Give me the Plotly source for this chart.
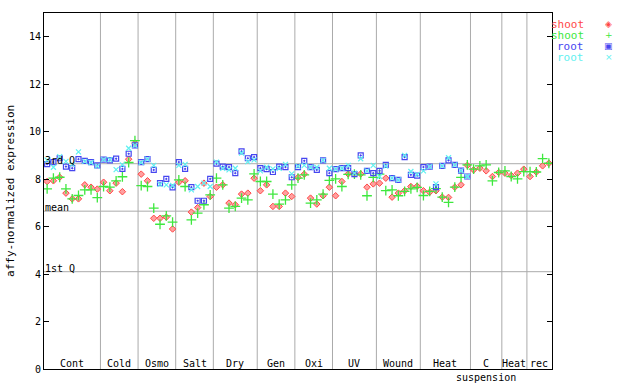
import plotly.graph_objects as go

# ---- data ----
groups = ["Cont", "Cold", "Osmo", "Salt", "Dry", "Gen", "Oxi", "UV", "Wound", "Heat", "C", "Heat", "rec"]
group_sizes = [9, 6, 6, 6, 7, 6, 6, 7, 7, 8, 5, 4, 4]

shoot_red = [7.90, 7.93, 8.08, 7.41, 7.17, 7.17, 7.76, 7.66, 7.58,
             7.87, 7.51, 7.83, 7.47, 8.84, 9.52,
             8.21, 7.93, 6.35, 6.35, 6.40, 5.90,
             7.87, 7.93, 6.61, 6.80, 7.83, 7.27,
             7.66, 7.76, 6.99, 6.92, 7.37, 7.41, 8.04,
             7.51, 7.76, 6.85, 6.85, 7.41, 7.27,
             8.07, 8.21, 7.20, 6.95, 7.30, 7.66,
             7.30, 7.90, 8.22, 8.20, 8.22, 7.66, 7.80,
             7.83, 8.04, 7.24, 7.41, 7.51, 7.69, 7.70,
             7.51, 7.45, 7.51, 7.24, 7.23, 7.66, 7.76, 8.58,
             8.39, 8.46, 8.35, 8.11, 8.28,
             8.25, 8.15, 8.25, 8.42,
             8.11, 8.30, 8.56, 8.67]

shoot_green = [7.59, 8.04, 8.08, 7.59, 7.17, 7.31, 7.55, 7.55, 7.22,
               7.69, 7.66, 7.93, 8.10, 8.70, 9.62,
               7.73, 7.69, 6.78, 6.10, 6.45, 6.19,
               7.97, 7.69, 6.28, 6.57, 6.92, 7.34,
               8.04, 7.76, 6.78, 6.85, 7.20, 7.13, 8.22,
               7.90, 7.90, 7.37, 6.95, 7.13, 7.76,
               8.04, 8.18, 6.99, 7.13, 7.37, 7.95,
               8.01, 7.69, 8.20, 8.21, 8.18, 7.30, 8.07,
               8.21, 7.52, 7.55, 7.30, 7.48, 7.59, 7.65,
               7.31, 7.48, 7.60, 7.24, 7.02, 7.66, 8.07, 8.60,
               8.42, 8.56, 8.60, 7.93, 8.28,
               8.35, 8.11, 8.01, 8.32,
               8.32, 8.30, 8.86, 8.67]

root_blue = [8.63, 8.72, 8.88, 8.53, 8.46, 8.84, 8.77, 8.72, 8.58,
             8.82, 8.79, 8.86, 8.43, 9.07, 9.42,
             8.72, 8.84, 8.39, 7.83, 8.01, 7.65,
             8.72, 8.43, 7.66, 7.09, 7.09, 8.01,
             8.65, 8.53, 8.51, 8.25, 9.17, 8.88, 8.93,
             8.46, 8.42, 8.30, 8.53, 8.51, 8.08,
             8.51, 8.77, 8.51, 8.39, 8.79, 8.25,
             8.42, 8.46, 8.46, 8.21, 9.00, 8.35, 8.25,
             8.35, 8.60, 8.04, 7.97, 8.93, 8.18, 8.15,
             8.51, 8.53, 7.66, 8.56, 8.79, 8.60, 8.36, 8.11]

root_cyan = [8.80, 8.50, 8.95, 8.75, 8.62, 9.15, 8.75, 8.70, 8.55,
             8.82, 8.82, 8.40, 8.60, 9.30, 9.42,
             8.70, 8.84, 8.58, 7.78, 7.76, 7.73,
             8.58, 8.62, 7.55, 7.69, 7.83, 7.69,
             8.72, 8.45, 8.39, 8.46, 9.10, 8.74, 8.81,
             8.35, 8.50, 8.43, 8.45, 8.62, 8.22,
             8.55, 8.58, 8.50, 8.50, 8.79, 8.46,
             8.42, 8.46, 8.58, 8.25, 8.86, 8.35, 8.58,
             8.11, 8.55, 8.04, 7.97, 9.00, 8.32, 8.20,
             8.35, 8.53, 7.80, 8.56, 8.90, 8.60, 8.36, 8.11]

quartile_values = [8.65, 6.65, 4.10]
quartile_labels = ["3rd Q", "mean", "1st Q"]
y_ticks = [0, 2, 4, 6, 8, 10, 12, 14]
legend_labels = ["shoot", "shoot", "root", "root"]

# ---- figure ----
FONT = "DejaVu Sans Mono"
RED, GREEN, BLUE, CYAN = "#ff4848", "#3ee83e", "#4646f0", "#5ff0f0"
n_total = sum(group_sizes)
x_shoot = list(range(len(shoot_red)))
x_root = list(range(len(root_blue)))

fig = go.Figure()
fig.add_trace(go.Scatter(x=x_shoot, y=shoot_red, mode="markers", name="shoot",
                         marker=dict(symbol="diamond", size=5, color="#ffa0a0",
                                     line=dict(color=RED, width=1))))
fig.add_trace(go.Scatter(x=x_shoot, y=shoot_green, mode="markers", name="shoot",
                         marker=dict(symbol="cross-thin-open", size=7, color=GREEN,
                                     line=dict(color=GREEN, width=1.3))))
fig.add_trace(go.Scatter(x=x_root, y=root_blue, mode="markers", name="root",
                         marker=dict(symbol="square-open-dot", size=5, color=BLUE,
                                     line=dict(color=BLUE, width=1.2))))
fig.add_trace(go.Scatter(x=x_root, y=root_cyan, mode="markers", name="root",
                         marker=dict(symbol="x-thin-open", size=5, color=CYAN,
                                     line=dict(color=CYAN, width=1.2))))

shapes = []
annotations = []
grid_color = "#ababab"

# group separators and labels
start = 0
for gi, (name, size) in enumerate(zip(groups, group_sizes)):
    end = start + size
    if gi < len(groups) - 1:
        shapes.append(dict(type="line", xref="x", yref="y", x0=end - 0.5, x1=end - 0.5,
                           y0=0, y1=15, line=dict(color=grid_color, width=1), layer="below"))
    center = (start + end - 1) / 2
    annotations.append(dict(x=center, y=0, xref="x", yref="y", text=name, showarrow=False,
                            yanchor="bottom", yshift=-2, font=dict(family=FONT, size=10, color="black")))
    if name == "C":
        annotations.append(dict(x=center, y=0, xref="x", yref="y", text="suspension", showarrow=False,
                                yanchor="top", yshift=-1, font=dict(family=FONT, size=10, color="black")))
    start = end

# quartile lines
for val, lab in zip(quartile_values, quartile_labels):
    shapes.append(dict(type="line", xref="paper", yref="y", x0=0, x1=1, y0=val, y1=val,
                       line=dict(color=grid_color, width=1), layer="below"))
    annotations.append(dict(x=0, y=val, xref="paper", yref="y", text=lab, showarrow=False,
                            xanchor="left", yanchor="bottom", xshift=-1, yshift=-4,
                            font=dict(family=FONT, size=10, color="black")))

# legend (text then marker, as in the reference)
legend_colors = [RED, GREEN, BLUE, CYAN]
legend_glyphs = ["◈", "+", "▣", "×"]
legend_rows_y = [0.969, 0.939, 0.908, 0.877]
for lab, col, gl, yy in zip(legend_labels, legend_colors, legend_glyphs, legend_rows_y):
    annotations.append(dict(x=1.067, y=yy, xref="paper", yref="paper", text=lab, showarrow=False,
                            xanchor="right", yanchor="middle", height=10,
                            font=dict(family=FONT, size=11, color=col)))
    annotations.append(dict(x=1.112, y=yy, xref="paper", yref="paper", text=gl, showarrow=False,
                            xanchor="center", yanchor="middle", height=10,
                            font=dict(family="DejaVu Sans", size=9, color=col)))

# y-axis title
annotations.append(dict(x=-0.067, y=0.5, xref="paper", yref="paper",
                        text="affy-normalized expression", showarrow=False, textangle=-90,
                        xanchor="center", yanchor="middle",
                        font=dict(family=FONT, size=11, color="black")))

fig.update_layout(
    width=640, height=384,
    margin=dict(l=44, r=88, t=13, b=15, autoexpand=False),
    paper_bgcolor="white", plot_bgcolor="white",
    showlegend=False,
    shapes=shapes, annotations=annotations,
    xaxis=dict(range=[-0.5, n_total - 0.5], showticklabels=False, showgrid=False,
               zeroline=False, showline=True, mirror=True, linecolor="black", linewidth=1,
               ticks=""),
    yaxis=dict(range=[0, 15], tickvals=y_ticks, showgrid=False, zeroline=False,
               showline=True, mirror="ticks", linecolor="black", linewidth=1,
               ticks="inside", ticklen=5, tickcolor="black",
               tickfont=dict(family=FONT, size=10, color="black")),
)

fig.write_html("out.html", config={"displayModeBar": False},
               post_script="document.body.style.margin='0';document.body.style.overflow='hidden';")
